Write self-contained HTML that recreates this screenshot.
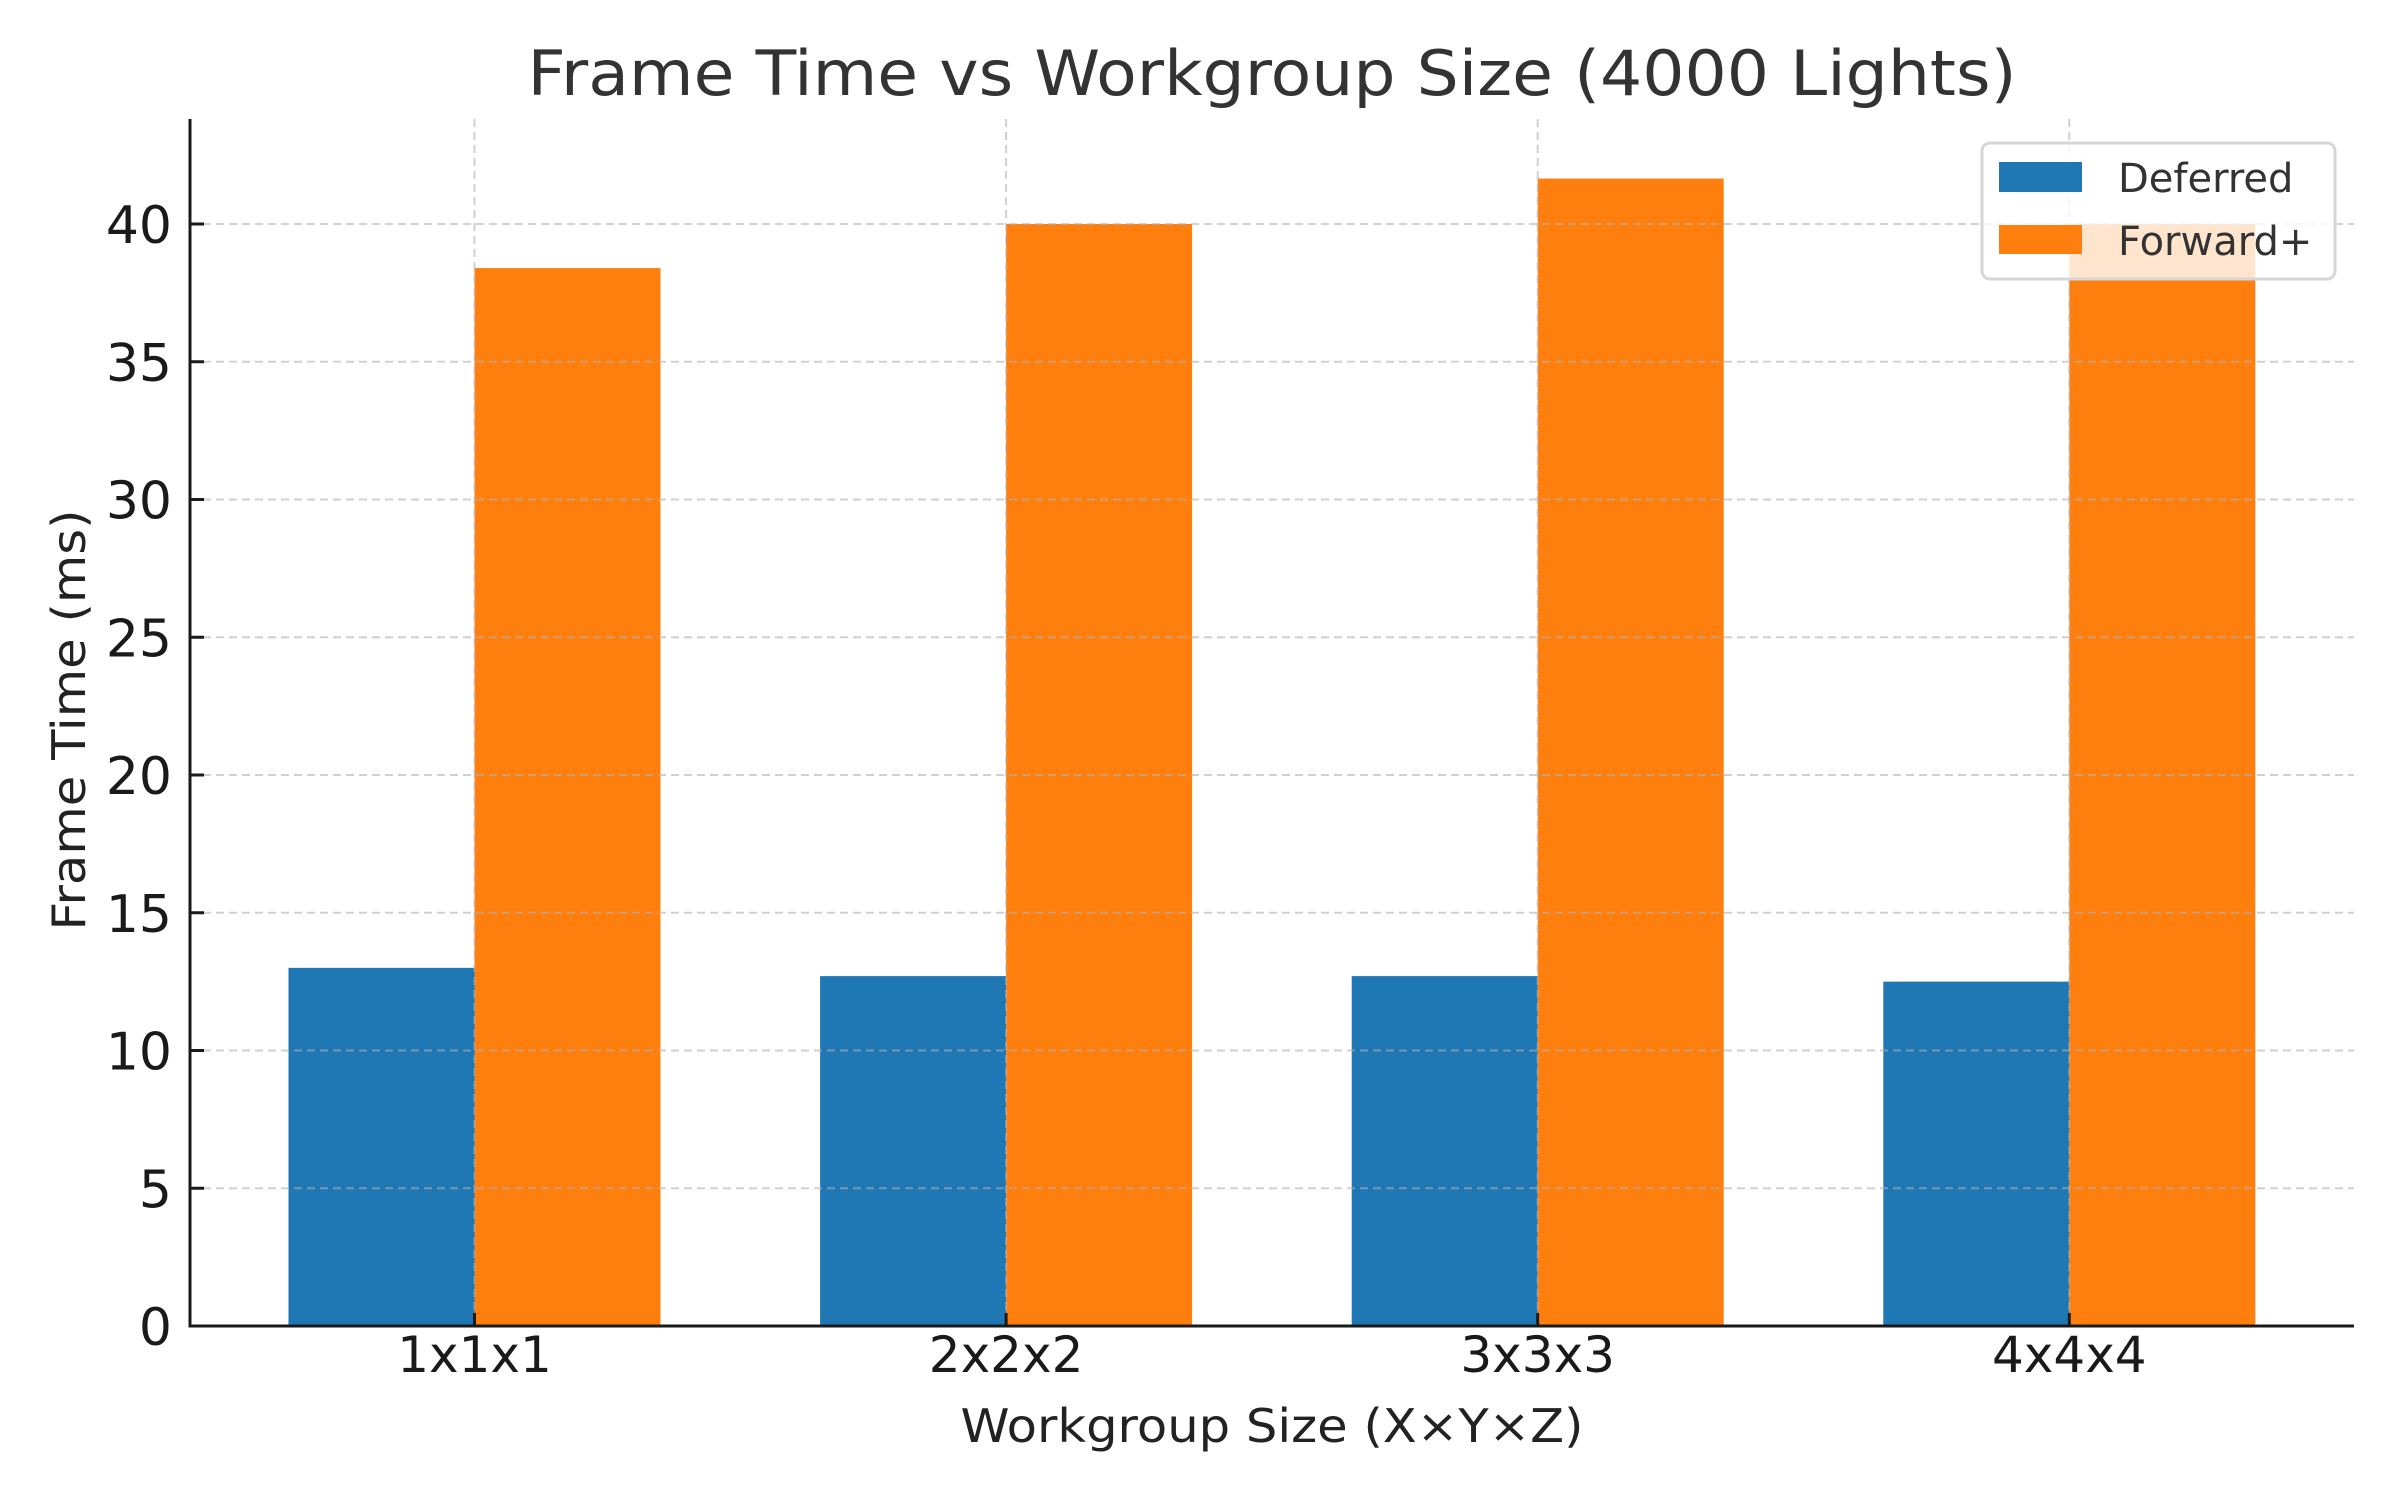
<!DOCTYPE html>
<html><head><meta charset="utf-8"><style>
html,body{margin:0;padding:0;background:#fff;}
svg text{font-family:"DejaVu Sans","Liberation Sans",sans-serif;}
</style></head><body>
<svg id="chart" width="2400" height="1500" viewBox="0 0 2400 1500" xmlns="http://www.w3.org/2000/svg">
<rect width="2400" height="1500" fill="#fff"/>
<text x="1272" y="95" font-size="62" fill="#333" text-anchor="middle" textLength="1489" lengthAdjust="spacingAndGlyphs">Frame Time vs Workgroup Size (4000 Lights)</text>
<g id="bars"></g>
<g id="grid"></g>
<g id="axes"></g>
<text x="1272" y="1442" font-size="46" fill="#222" text-anchor="middle" textLength="623" lengthAdjust="spacingAndGlyphs">Workgroup Size (X×Y×Z)</text>
<text transform="translate(85,720) rotate(-90)" font-size="46" fill="#222" text-anchor="middle" textLength="421" lengthAdjust="spacingAndGlyphs">Frame Time (ms)</text>
<g>
<rect x="1982" y="143" width="353" height="136" rx="8" fill="#fff" fill-opacity="0.8" stroke="#d6d6d6" stroke-width="3"/>
<rect x="1999" y="162" width="83" height="30" fill="#1f77b4"/>
<text x="2118" y="192" font-size="40" fill="#333">Deferred</text>
<rect x="1999" y="225" width="83" height="29" fill="#ff7f0e"/>
<text x="2118" y="255" font-size="40" fill="#333">Forward+</text>
</g>
</svg>
<script>
const categories = ["1x1x1", "2x2x2", "3x3x3", "4x4x4"];
const deferredValues = [13.0, 12.7, 12.7, 12.5];
const forwardValues = [38.4, 40.0, 41.65, 40.0];
const yTicks = [0, 5, 10, 15, 20, 25, 30, 35, 40];

const NS = "http://www.w3.org/2000/svg";
const L = 190, R = 2354, TOP = 119, BASE = 1326;
const X0 = 474.5, STEP = 531.6, BW = 186;
const PPU = 27.55;
function xScale(i){ return X0 + i * STEP; }
function yScale(v){ return BASE - v * PPU; }
function mk(tag, attrs, parent){
  const e = document.createElementNS(NS, tag);
  for (const k in attrs) e.setAttribute(k, attrs[k]);
  parent.appendChild(e);
  return e;
}
const bars = document.getElementById('bars');
const grid = document.getElementById('grid');
const axes = document.getElementById('axes');

categories.forEach((c, i) => {
  const cx = xScale(i);
  const b1 = mk('rect', {x: cx - BW, y: yScale(deferredValues[i]), width: BW, height: BASE - yScale(deferredValues[i]), fill: '#1f77b4'}, bars);
  
  
  const b2 = mk('rect', {x: cx, y: yScale(forwardValues[i]), width: BW, height: BASE - yScale(forwardValues[i]), fill: '#ff7f0e'}, bars);
  
  
  const g = mk('line', {x1: cx, x2: cx, y1: TOP, y2: BASE, stroke: '#b0b0b0', 'stroke-opacity': 0.6, 'stroke-width': 2, 'stroke-dasharray': '8 5'}, grid);
  
  
  const t = mk('line', {x1: cx, x2: cx, y1: BASE, y2: BASE - 13, stroke: '#1a1a1a', 'stroke-width': 3}, axes);
  
  
  const lb = mk('text', {x: cx, y: 1372, 'font-size': 50, fill: '#1a1a1a', 'text-anchor': 'middle'}, axes);
  lb.textContent = c;
  
  
});

yTicks.forEach(v => {
  const y = yScale(v);
  if (v > 0) {
    const g = mk('line', {x1: L, x2: R, y1: y, y2: y, stroke: '#b0b0b0', 'stroke-opacity': 0.6, 'stroke-width': 2, 'stroke-dasharray': '8 5'}, grid);
    
    
  }
  const t = mk('line', {x1: L, x2: L + 14, y1: y, y2: y, stroke: '#1a1a1a', 'stroke-width': 3}, axes);
  
  
  const lb = mk('text', {x: 172, y: y + 19, 'font-size': 52, fill: '#1a1a1a', 'text-anchor': 'end'}, axes);
  lb.textContent = v;
  
  
});

const sl = mk('line', {x1: L, x2: L, y1: TOP, y2: BASE + 1.5, stroke: '#1a1a1a', 'stroke-width': 3}, axes);


const sb = mk('line', {x1: L - 1.5, x2: R, y1: BASE, y2: BASE, stroke: '#1a1a1a', 'stroke-width': 3}, axes);


</script>
</body></html>
